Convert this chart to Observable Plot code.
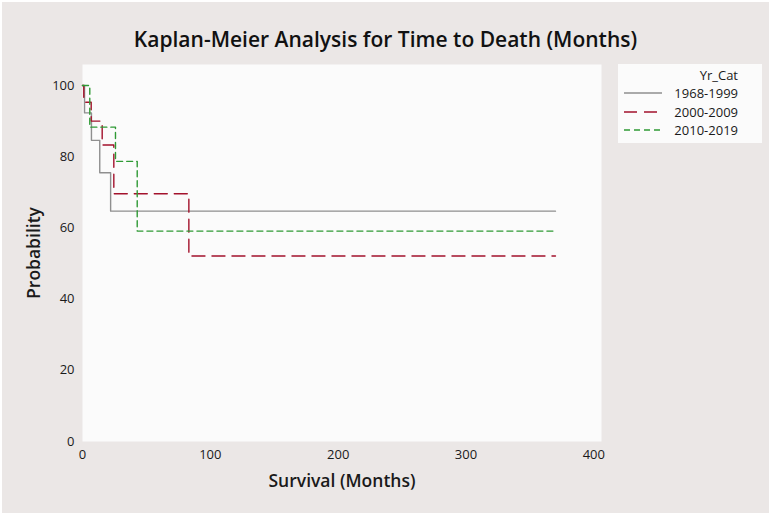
<!DOCTYPE html>
<html>
<head>
<meta charset="utf-8">
<script src="https://cdn.jsdelivr.net/npm/d3@7"></script>
<script src="https://cdn.jsdelivr.net/npm/@observablehq/plot@0.6"></script>
<style>
  html, body { margin: 0; padding: 0; background: #ffffff; }
  #wrap { position: relative; width: 771px; height: 515px; font-family: "Open Sans", "Noto Sans", sans-serif; }
  #title { position: absolute; left: 0; width: 771px; top: 25px; text-align: center; font-size: 21px; font-weight: 600; color: #111; }
  #legend { position: absolute; left: 618px; top: 64px; width: 144px; height: 79px; background: #fbfbfb; font-size: 13px; color: #1a1a1a; }
  #legend .hdr { position: absolute; right: 24px; top: 2px; }
  #legend .row { position: absolute; left: 6px; width: 114px; height: 16px; }
  #legend .row svg { position: absolute; left: 0; top: 0; }
  #legend .row span { position: absolute; right: 0; top: -2px; white-space: nowrap; }
</style>
</head>
<body>
<div id="wrap">
  <div id="chart"></div>
  <div id="title">Kaplan-Meier Analysis for Time to Death (Months)</div>
  <div id="legend"></div>
</div>
<script>
// Categories
const groups = ["1968-1999", "2000-2009", "2010-2019"];
const colors = ["#8f8f8f", "#a3122c", "#2f9a35"];
const dashes = ["none", "13,7", "6,4"];

// Series (time in months, survival probability in %)
const times1968 = [0, 1.6, 7.0, 13.5, 22.0, 370];
const surv1968  = [100, 92.3, 84.6, 75.5, 64.7, 64.7];
const times2000 = [0, 1.0, 6.8, 15.4, 24.5, 83.2, 370];
const surv2000  = [100, 95.3, 90.0, 83.3, 69.6, 52.1, 52.1];
const times2010 = [0, 5.7, 25.8, 42.8, 370];
const surv2010  = [100, 88.3, 78.7, 59.1, 59.1];

// Tick labels
const xTicks = [0, 100, 200, 300, 400];
const yTicks = [0, 20, 40, 60, 80, 100];

const series = [
  [times1968, surv1968],
  [times2000, surv2000],
  [times2010, surv2010]
];
const rows = [];
series.forEach(([t, s], i) => t.forEach((v, j) => rows.push({group: groups[i], time: v, surv: s[j]})));

const marks = [Plot.frame({fill: "#fbfbfb", stroke: null})];
groups.forEach((g, i) => {
  marks.push(Plot.line(rows.filter(d => d.group === g), {
    x: "time", y: "surv", curve: "step-after",
    stroke: colors[i], strokeWidth: 1.4,
    strokeDasharray: dashes[i] === "none" ? null : dashes[i]
  }));
});

const chart = Plot.plot({
  width: 771,
  height: 515,
  marginLeft: 82,
  marginRight: 170,
  marginTop: 64,
  marginBottom: 74,
  style: {background: "#ebe7e6", fontFamily: "'Open Sans', 'Noto Sans', sans-serif", fontSize: "13px", color: "#1a1a1a"},
  x: {domain: [0, 406]},
  y: {domain: [0, 105.9]},
  marks: [
    ...marks,
    Plot.axisX({ticks: xTicks, tickSize: 0, tickPadding: 8, label: "Survival (Months)", labelArrow: "none", labelAnchor: "center", labelOffset: 45, fontSize: 13}),
    Plot.axisY({ticks: yTicks, tickSize: 0, tickPadding: 8, label: "Probability", labelArrow: "none", labelAnchor: "center", labelOffset: 55, fontSize: 13})
  ]
});
chart.style.outline = "2px solid #ffffff";
chart.style.outlineOffset = "-2px";
chart.querySelectorAll("[aria-label='x-axis label'] text, [aria-label='y-axis label'] text").forEach(t => {
  t.setAttribute("font-size", "17.5px");
  t.setAttribute("font-weight", "600");
});
document.getElementById("chart").appendChild(chart);

// Legend
const leg = document.getElementById("legend");
const hdr = document.createElement("div");
hdr.className = "hdr";
hdr.textContent = "Yr_Cat";
leg.appendChild(hdr);
groups.forEach((g, i) => {
  const row = document.createElement("div");
  row.className = "row";
  row.style.top = (22 + i * 18.5) + "px";
  row.innerHTML = `<svg width="40" height="16"><line x1="0" x2="38" y1="7" y2="7" stroke="${colors[i]}" stroke-width="1.4" ${dashes[i] === "none" ? "" : `stroke-dasharray="${dashes[i]}"`}/></svg><span>${g}</span>`;
  leg.appendChild(row);
});
</script>
</body>
</html>
